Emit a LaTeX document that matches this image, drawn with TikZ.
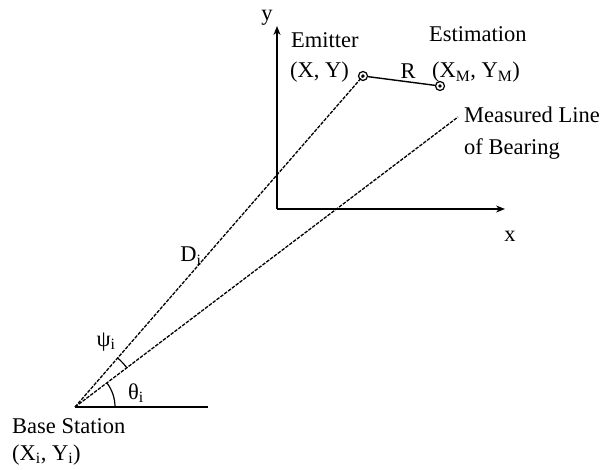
\documentclass[tikz,border=0pt]{standalone}
\usepackage{fontspec}
\setmainfont{Liberation Serif}
\usetikzlibrary{arrows.meta}
\begin{document}
\begin{tikzpicture}[x=1pt,y=-1pt,
  lbl/.style={inner sep=0pt,font=\fontsize{22.5}{26}\selectfont},
  dline/.style={line width=1.3pt,dash pattern=on 3.5pt off 1.3pt},
  sline/.style={line width=1.4pt},
  axis/.style={line width=1.5pt,-{Stealth[length=9pt,width=7pt]}},
  ptmark/.style={circle,draw,line width=1.2pt,minimum size=9pt,inner sep=0pt}]
\useasboundingbox (0,0) rectangle (604,470);
% points
\coordinate (B) at (75,407);
\coordinate (O) at (277,209);
\coordinate (Ytop) at (277,26);
\coordinate (Xend) at (505,209);
\coordinate (Bh) at (208,407);
\coordinate (Mend) at (458,117);
\node[ptmark] (E) at (363,76) {};
\node[circle,fill,inner sep=1.4pt] (Ed) at (363,76) {};
\node[ptmark] (M) at (440,86) {};
\node[circle,fill,inner sep=1.4pt] (Md) at (440,86) {};
% axes
\draw[axis] (O) -- (Ytop);
\draw[axis] (O) -- (Xend);
% lines
\draw[sline] (B) -- (Bh);
\draw[dline] (B) -- (E.center);
\draw[dline] (B) -- (Mend);
\draw[sline] (E) -- (M);
% arcs
\draw[line width=1.2pt] ([shift={(0:40)}]B) arc[start angle=0,end angle=-37,radius=40];
\draw[line width=1.2pt] ([shift={(-37:65)}]B) arc[start angle=-37,end angle=-49,radius=65];
% labels
\node[lbl] (ly) at (267,18) {y};
\node[lbl] (lx) at (510,236) {x};
\node[lbl,anchor=base west] (lem) at (291,48) {Emitter};
\node[lbl,anchor=base west] (lxy) at (290,78) {(X, Y)};
\node[lbl] (lR) at (408,71) {R};
\node[lbl,anchor=base west] (lest) at (429,42) {Estimation};
\node[lbl,anchor=base west] (lxm) at (432,78) {(X\textsubscript{M}, Y\textsubscript{M})};
\node[lbl,anchor=base west] (lml) at (464,123) {Measured Line};
\node[lbl,anchor=base west] (lob) at (464,155) {of Bearing};
\node[lbl] (lD) at (191,256) {D\textsubscript{i}};
\node[lbl] (lpsi) at (106,342) {ψ\textsubscript{i}};
\node[lbl] (lth) at (136,393) {θ\textsubscript{i}};
\node[lbl,anchor=base west] (lbs) at (12,433) {Base Station};
\node[lbl,anchor=base west] (lbxy) at (12,460) {(X\textsubscript{i}, Y\textsubscript{i})};
\end{tikzpicture}
\end{document}
